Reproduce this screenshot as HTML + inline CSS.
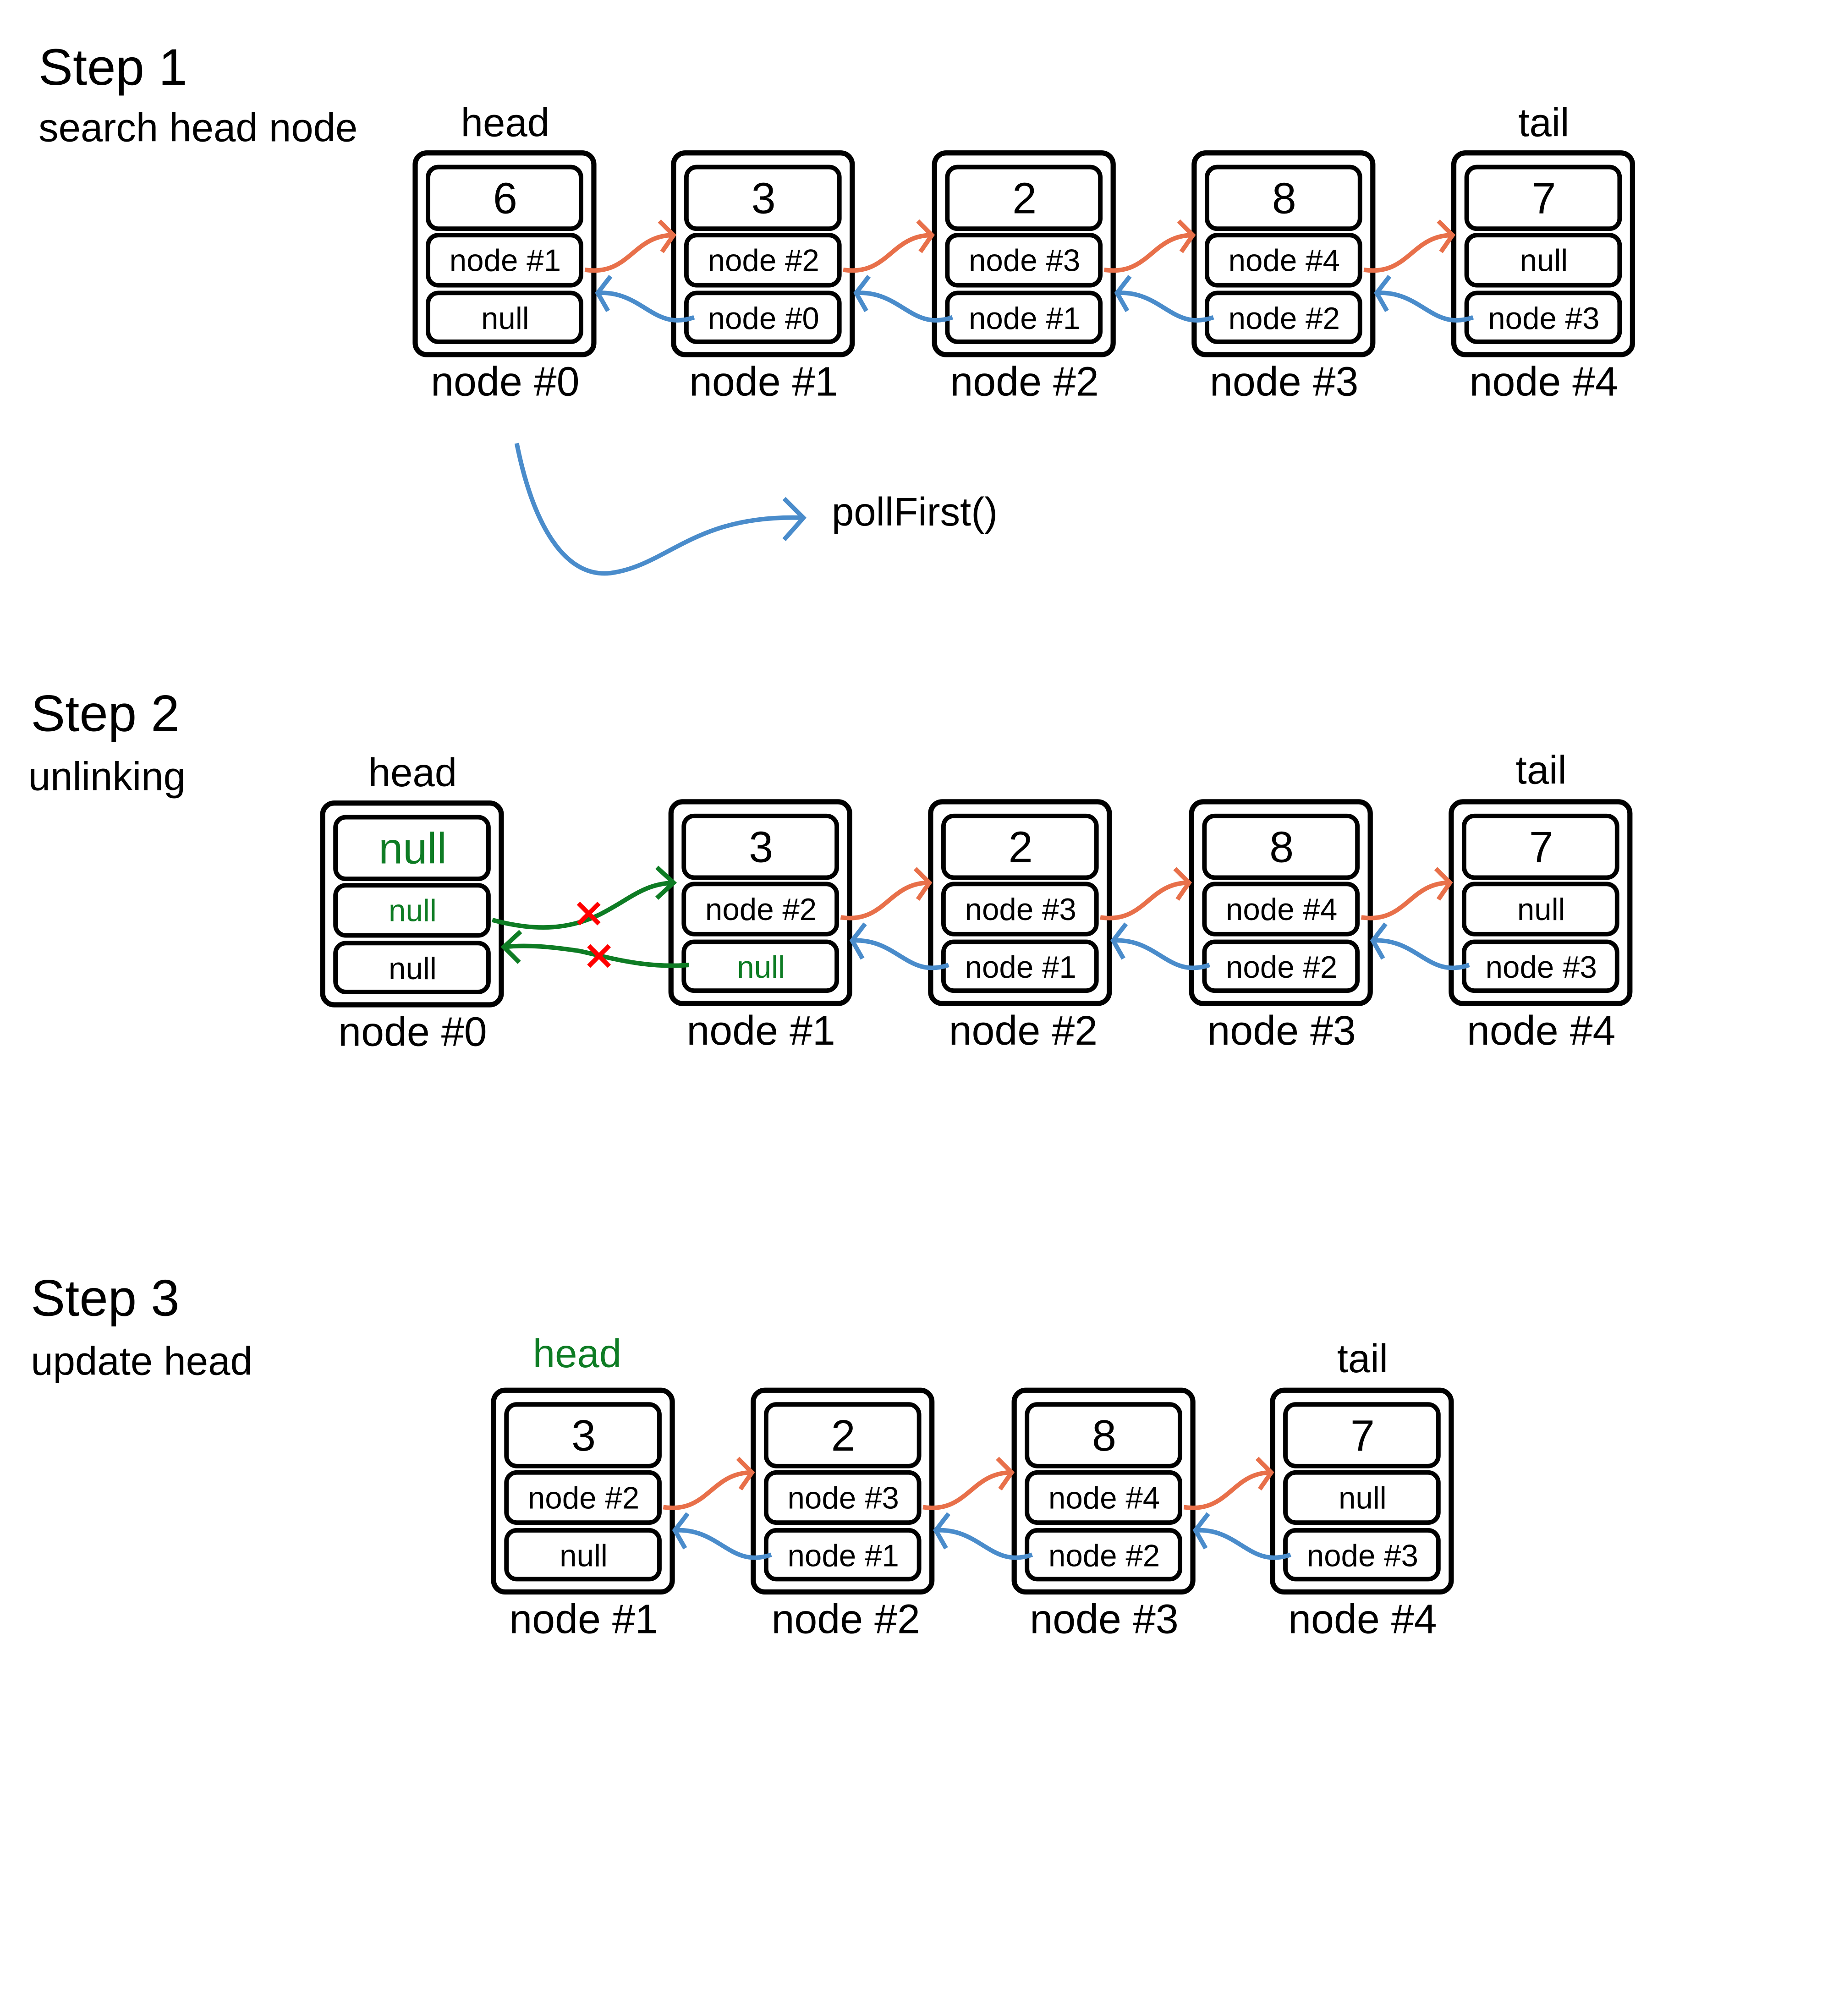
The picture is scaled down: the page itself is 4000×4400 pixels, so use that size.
<!DOCTYPE html>
<html><head><meta charset="utf-8"><style>
html,body{margin:0;padding:0;background:#fff;}
svg{display:block;}
text{font-family:"Liberation Sans",sans-serif;fill:#000;text-anchor:middle;}
.t{text-anchor:start;}
.o{fill:#fff;stroke:#000;stroke-width:4;}
.i{fill:#fff;stroke:#000;stroke-width:3.5;}
.or{fill:none;stroke:#E8704A;stroke-width:3.5;}
.bl{fill:none;stroke:#4A8CCB;stroke-width:3.5;}
.gr{fill:none;stroke:#0E7C24;stroke-width:3.5;}
.rd{fill:none;stroke:#FF0000;stroke-width:3.5;}
</style></head><body>
<svg width="4000" height="4400" viewBox="0 0 1426 1569" preserveAspectRatio="none" xmlns="http://www.w3.org/2000/svg">
<rect width="1426" height="1569" fill="#fff"/>
<!-- STEP 1 -->
<text class="t" x="30" y="66" font-size="40">Step 1</text>
<text class="t" x="30" y="110" font-size="31">search head node</text>
<text x="393" y="106" font-size="31">head</text>
<text x="1201" y="106" font-size="31">tail</text>

<g>
<rect class="o" x="323" y="119" width="139" height="157" rx="9"/>
<rect class="i" x="333" y="130" width="119" height="48" rx="8"/>
<rect class="i" x="333" y="183" width="119" height="39" rx="8"/>
<rect class="i" x="333" y="228" width="119" height="38" rx="8"/>
<text x="393" y="166" font-size="34">6</text>
<text x="393" y="211" font-size="24">node #1</text>
<text x="393" y="256" font-size="24">null</text>
<text x="393" y="308" font-size="32">node #0</text>
</g>
<g>
<rect class="o" x="524" y="119" width="139" height="157" rx="9"/>
<rect class="i" x="534" y="130" width="119" height="48" rx="8"/>
<rect class="i" x="534" y="183" width="119" height="39" rx="8"/>
<rect class="i" x="534" y="228" width="119" height="38" rx="8"/>
<text x="594" y="166" font-size="34">3</text>
<text x="594" y="211" font-size="24">node #2</text>
<text x="594" y="256" font-size="24">node #0</text>
<text x="594" y="308" font-size="32">node #1</text>
</g>
<g>
<rect class="o" x="727" y="119" width="139" height="157" rx="9"/>
<rect class="i" x="737" y="130" width="119" height="48" rx="8"/>
<rect class="i" x="737" y="183" width="119" height="39" rx="8"/>
<rect class="i" x="737" y="228" width="119" height="38" rx="8"/>
<text x="797" y="166" font-size="34">2</text>
<text x="797" y="211" font-size="24">node #3</text>
<text x="797" y="256" font-size="24">node #1</text>
<text x="797" y="308" font-size="32">node #2</text>
</g>
<g>
<rect class="o" x="929" y="119" width="139" height="157" rx="9"/>
<rect class="i" x="939" y="130" width="119" height="48" rx="8"/>
<rect class="i" x="939" y="183" width="119" height="39" rx="8"/>
<rect class="i" x="939" y="228" width="119" height="38" rx="8"/>
<text x="999" y="166" font-size="34">8</text>
<text x="999" y="211" font-size="24">node #4</text>
<text x="999" y="256" font-size="24">node #2</text>
<text x="999" y="308" font-size="32">node #3</text>
</g>
<g>
<rect class="o" x="1131" y="119" width="139" height="157" rx="9"/>
<rect class="i" x="1141" y="130" width="119" height="48" rx="8"/>
<rect class="i" x="1141" y="183" width="119" height="39" rx="8"/>
<rect class="i" x="1141" y="228" width="119" height="38" rx="8"/>
<text x="1201" y="166" font-size="34">7</text>
<text x="1201" y="211" font-size="24">null</text>
<text x="1201" y="256" font-size="24">node #3</text>
<text x="1201" y="308" font-size="32">node #4</text>
</g>
<!-- step1 arrows -->
<g>
<path class="or" d="M455,210 C490,215 492,183 524,183 M513,172 L524,183 L515,196"/>
<path class="bl" d="M540,247 C508,258 500,226 465,228 M475,215 L465,228 L473,242"/>
<path class="or" d="M656,210 C691,215 693,183 725,183 M714,172 L725,183 L716,196"/>
<path class="bl" d="M741,247 C709,258 701,226 666,228 M676,215 L666,228 L674,242"/>
<path class="or" d="M859,210 C894,215 896,183 928,183 M917,172 L928,183 L919,196"/>
<path class="bl" d="M944,247 C912,258 904,226 869,228 M879,215 L869,228 L877,242"/>
<path class="or" d="M1061,210 C1096,215 1098,183 1130,183 M1119,172 L1130,183 L1121,196"/>
<path class="bl" d="M1146,247 C1114,258 1106,226 1071,228 M1081,215 L1071,228 L1079,242"/>
</g>
<path class="bl" d="M402,345 C415,410 440,450 475,446 C520,440 540,400 625,403 M610,388 L625,403 L610,420"/>
<text class="t" x="647" y="409" font-size="31">pollFirst()</text>

<!-- STEP 2 -->
<text class="t" x="24" y="569" font-size="40">Step 2</text>
<text class="t" x="22" y="615" font-size="31">unlinking</text>
<text x="321" y="612" font-size="31">head</text>
<text x="1199" y="610" font-size="31">tail</text>
<g>
<rect class="o" x="251" y="625" width="139" height="157" rx="9"/>
<rect class="i" x="261" y="636" width="119" height="48" rx="8"/>
<rect class="i" x="261" y="689" width="119" height="39" rx="8"/>
<rect class="i" x="261" y="734" width="119" height="38" rx="8"/>
<text x="321" y="672" font-size="34" style="fill:#0E7C24">null</text>
<text x="321" y="717" font-size="24" style="fill:#0E7C24">null</text>
<text x="321" y="762" font-size="24">null</text>
<text x="321" y="814" font-size="32">node #0</text>
</g>
<g>
<rect class="o" x="522" y="624" width="139" height="157" rx="9"/>
<rect class="i" x="532" y="635" width="119" height="48" rx="8"/>
<rect class="i" x="532" y="688" width="119" height="39" rx="8"/>
<rect class="i" x="532" y="733" width="119" height="38" rx="8"/>
<text x="592" y="671" font-size="34">3</text>
<text x="592" y="716" font-size="24">node #2</text>
<text x="592" y="761" font-size="24" style="fill:#0E7C24">null</text>
<text x="592" y="813" font-size="32">node #1</text>
</g>
<g>
<rect class="o" x="724" y="624" width="139" height="157" rx="9"/>
<rect class="i" x="734" y="635" width="119" height="48" rx="8"/>
<rect class="i" x="734" y="688" width="119" height="39" rx="8"/>
<rect class="i" x="734" y="733" width="119" height="38" rx="8"/>
<text x="794" y="671" font-size="34">2</text>
<text x="794" y="716" font-size="24">node #3</text>
<text x="794" y="761" font-size="24">node #1</text>
<text x="796" y="813" font-size="32">node #2</text>
</g>
<g>
<rect class="o" x="927" y="624" width="139" height="157" rx="9"/>
<rect class="i" x="937" y="635" width="119" height="48" rx="8"/>
<rect class="i" x="937" y="688" width="119" height="39" rx="8"/>
<rect class="i" x="937" y="733" width="119" height="38" rx="8"/>
<text x="997" y="671" font-size="34">8</text>
<text x="997" y="716" font-size="24">node #4</text>
<text x="997" y="761" font-size="24">node #2</text>
<text x="997" y="813" font-size="32">node #3</text>
</g>
<g>
<rect class="o" x="1129" y="624" width="139" height="157" rx="9"/>
<rect class="i" x="1139" y="635" width="119" height="48" rx="8"/>
<rect class="i" x="1139" y="688" width="119" height="39" rx="8"/>
<rect class="i" x="1139" y="733" width="119" height="38" rx="8"/>
<text x="1199" y="671" font-size="34">7</text>
<text x="1199" y="716" font-size="24">null</text>
<text x="1199" y="761" font-size="24">node #3</text>
<text x="1199" y="813" font-size="32">node #4</text>
</g>
<path class="gr" d="M383,716 C420,726 445,722 466,712 C490,700 500,688 524,687 M511,675 L524,687 L511,699"/>
<path class="gr" d="M536,751 C500,754 470,744 450,740 C430,737 410,735 392,737 M405,725 L392,737 L404,749"/>
<path class="rd" d="M450,703 L466,719 M466,703 L450,719 M458,736 L474,752 M474,736 L458,752"/>
<path class="or" d="M654,714 C689,719 691,687 723,687 M712,676 L723,687 L714,700"/>
<path class="bl" d="M738,751 C706,762 698,730 663,732 M673,719 L663,732 L671,746"/>
<path class="or" d="M856,714 C891,719 893,687 925,687 M914,676 L925,687 L916,700"/>
<path class="bl" d="M941,751 C909,762 901,730 866,732 M876,719 L866,732 L874,746"/>
<path class="or" d="M1059,714 C1094,719 1096,687 1128,687 M1117,676 L1128,687 L1119,700"/>
<path class="bl" d="M1143,751 C1111,762 1103,730 1068,732 M1078,719 L1068,732 L1076,746"/>

<!-- STEP 3 -->
<text class="t" x="24" y="1024" font-size="40">Step 3</text>
<text class="t" x="24" y="1070" font-size="31">update head</text>
<text x="449" y="1064" font-size="31" style="fill:#0E7C24">head</text>
<text x="1060" y="1068" font-size="31">tail</text>
<g>
<rect class="o" x="384" y="1082" width="139" height="157" rx="9"/>
<rect class="i" x="394" y="1093" width="119" height="48" rx="8"/>
<rect class="i" x="394" y="1146" width="119" height="39" rx="8"/>
<rect class="i" x="394" y="1191" width="119" height="38" rx="8"/>
<text x="454" y="1129" font-size="34">3</text>
<text x="454" y="1174" font-size="24">node #2</text>
<text x="454" y="1219" font-size="24">null</text>
<text x="454" y="1271" font-size="32">node #1</text>
</g>
<g>
<rect class="o" x="586" y="1082" width="139" height="157" rx="9"/>
<rect class="i" x="596" y="1093" width="119" height="48" rx="8"/>
<rect class="i" x="596" y="1146" width="119" height="39" rx="8"/>
<rect class="i" x="596" y="1191" width="119" height="38" rx="8"/>
<text x="656" y="1129" font-size="34">2</text>
<text x="656" y="1174" font-size="24">node #3</text>
<text x="656" y="1219" font-size="24">node #1</text>
<text x="658" y="1271" font-size="32">node #2</text>
</g>
<g>
<rect class="o" x="789" y="1082" width="139" height="157" rx="9"/>
<rect class="i" x="799" y="1093" width="119" height="48" rx="8"/>
<rect class="i" x="799" y="1146" width="119" height="39" rx="8"/>
<rect class="i" x="799" y="1191" width="119" height="38" rx="8"/>
<text x="859" y="1129" font-size="34">8</text>
<text x="859" y="1174" font-size="24">node #4</text>
<text x="859" y="1219" font-size="24">node #2</text>
<text x="859" y="1271" font-size="32">node #3</text>
</g>
<g>
<rect class="o" x="990" y="1082" width="139" height="157" rx="9"/>
<rect class="i" x="1000" y="1093" width="119" height="48" rx="8"/>
<rect class="i" x="1000" y="1146" width="119" height="39" rx="8"/>
<rect class="i" x="1000" y="1191" width="119" height="38" rx="8"/>
<text x="1060" y="1129" font-size="34">7</text>
<text x="1060" y="1174" font-size="24">null</text>
<text x="1060" y="1219" font-size="24">node #3</text>
<text x="1060" y="1271" font-size="32">node #4</text>
</g>
<path class="or" d="M516,1173 C551,1178 553,1146 585,1146 M574,1135 L585,1146 L576,1159"/>
<path class="bl" d="M600,1210 C568,1221 560,1189 525,1191 M535,1178 L525,1191 L533,1205"/>
<path class="or" d="M718,1173 C753,1178 755,1146 787,1146 M776,1135 L787,1146 L778,1159"/>
<path class="bl" d="M803,1210 C771,1221 763,1189 728,1191 M738,1178 L728,1191 L736,1205"/>
<path class="or" d="M921,1173 C956,1178 958,1146 989,1146 M978,1135 L989,1146 L980,1159"/>
<path class="bl" d="M1004,1210 C972,1221 964,1189 930,1191 M940,1178 L930,1191 L938,1205"/>
</svg>
</body></html>
